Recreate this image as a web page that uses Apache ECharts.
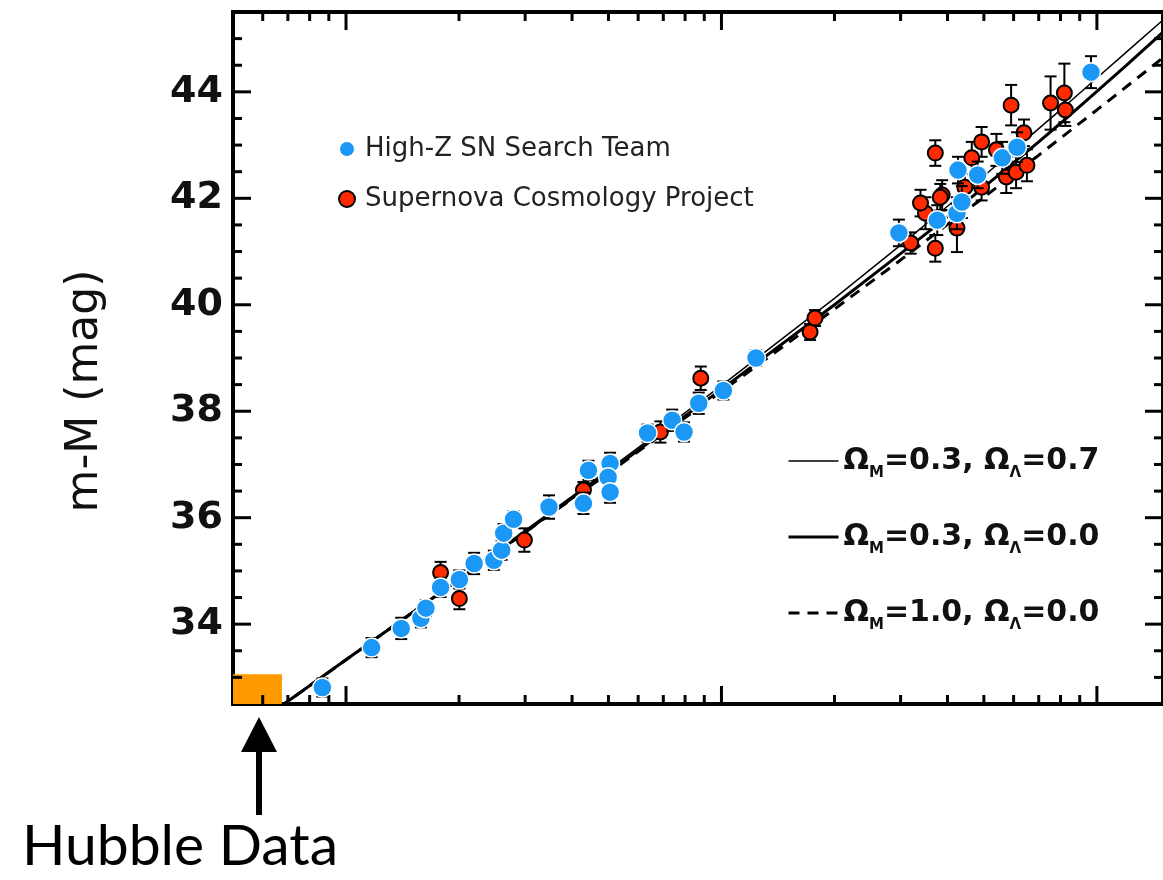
<!DOCTYPE html>
<html>
<head>
<meta charset="utf-8">
<script src="https://cdn.jsdelivr.net/npm/echarts@6/dist/echarts.min.js"></script>
<style>
  html, body { margin: 0; padding: 0; background: #fff; }
  #chart { width: 1163px; height: 880px; }
</style>
</head>
<body>
<div id="chart"></div>
<script>
// High-Z SN Search Team (blue)
const blueZ = [0.00865, 0.0117, 0.01403, 0.01583, 0.01632, 0.01786, 0.02004, 0.02194, 0.02476, 0.02598, 0.0263, 0.02794,
  0.03473, 0.0429, 0.04423, 0.05051, 0.04991, 0.05051, 0.06356, 0.07393, 0.07949, 0.08701, 0.1012, 0.1236,
  0.2969, 0.3757, 0.4239, 0.4369, 0.4266, 0.4814, 0.5598, 0.6128, 0.9645];
const blueMu = [32.81, 33.56, 33.92, 34.11, 34.30, 34.69, 34.84, 35.14, 35.20, 35.39, 35.71, 35.97,
  36.20, 36.27, 36.89, 37.02, 36.76, 36.48, 37.59, 37.83, 37.61, 38.15, 38.39, 39.00,
  41.35, 41.59, 41.72, 41.93, 42.53, 42.44, 42.76, 42.96, 44.37];
const blueErr = [0.17, 0.18, 0.2, 0.17, 0.15, 0.18, 0.17, 0.2, 0.18, 0.18, 0.17, 0.15,
  0.22, 0.2, 0.18, 0.2, 0.18, 0.2, 0.16, 0.2, 0.18, 0.2, 0.17, 0.15,
  0.25, 0.28, 0.3, 0.3, 0.25, 0.25, 0.3, 0.28, 0.3];

// Supernova Cosmology Project (red)
const redZ = [0.01786, 0.02004, 0.02986, 0.0429, 0.06877, 0.08808, 0.1722, 0.1775,
  0.3191, 0.3712, 0.3712, 0.4239, 0.3495, 0.3871, 0.339, 0.3827, 0.4642, 0.4931, 0.4449, 0.4931,
  0.54, 0.5737, 0.6092, 0.6511, 0.6394, 0.5909, 0.7527, 0.8192, 0.8241];
const redMu = [34.97, 34.48, 35.58, 36.52, 37.61, 38.62, 39.49, 39.75,
  41.16, 41.06, 42.85, 41.44, 41.72, 42.06, 41.91, 42.02, 42.76, 43.06, 42.21, 42.21,
  42.91, 42.40, 42.49, 42.62, 43.23, 43.75, 43.79, 43.98, 43.66];
const redErr = [0.2, 0.2, 0.22, 0.15, 0.2, 0.22, 0.15, 0.15,
  0.2, 0.25, 0.24, 0.45, 0.3, 0.28, 0.25, 0.25, 0.3, 0.28, 0.25, 0.25,
  0.3, 0.3, 0.3, 0.3, 0.25, 0.38, 0.5, 0.55, 0.3];

// model curves
const modelZ = [0.005, 0.007, 0.01, 0.02, 0.05, 0.1, 0.2, 0.3, 0.4, 0.5, 0.6, 0.7, 0.8, 1.0, 1.2, 1.5];
const lambdaMu = [31.82, 32.56, 33.34, 34.86, 36.90, 38.48, 40.12, 41.12, 41.85, 42.42, 42.90, 43.31, 43.66, 44.26, 44.75, 45.35];
const openMu = [31.82, 32.55, 33.33, 34.84, 36.86, 38.41, 40.00, 40.96, 41.65, 42.21, 42.67, 43.06, 43.41, 44.01, 44.50, 45.12];
const edsMu = [31.82, 32.55, 33.33, 34.84, 36.84, 38.37, 39.92, 40.84, 41.51, 42.02, 42.45, 42.81, 43.13, 43.66, 44.10, 44.64];

// axis ranges and tick marks
const zMin = 0.005, zMax = 1.5;
const muMin = 32.5, muMax = 45.5;
const xMajorTicks = [0.01, 0.1, 1];
const xMinorTicks = [0.006, 0.007, 0.008, 0.009, 0.02, 0.03, 0.04, 0.05, 0.06, 0.07, 0.08, 0.09,
  0.2, 0.3, 0.4, 0.5, 0.6, 0.7, 0.8, 0.9];
const yMajorTicks = [34, 36, 38, 40, 42, 44];
const yMinorTicks = [33, 33.5, 34.5, 35, 35.5, 36.5, 37, 37.5, 38.5, 39, 39.5, 40.5, 41, 41.5,
  42.5, 43, 43.5, 44.5, 45];
const hubbleBox = [[0.005, 32.5], [0.00675, 33.06]];

const blueName = 'High-Z SN Search Team';
const redName = 'Supernova Cosmology Project';
const lambdaName = 'OmM=0.3, OmL=0.7';
const openName = 'OmM=0.3, OmL=0.0';
const edsName = 'OmM=1.0, OmL=0.0';
const modelLabels = {};
modelLabels[lambdaName] = '{b|\u03A9}{s|M}{b|=0.3, \u03A9}{s|\u039B}{b|=0.7}';
modelLabels[openName] = '{b|\u03A9}{s|M}{b|=0.3, \u03A9}{s|\u039B}{b|=0.0}';
modelLabels[edsName] = '{b|\u03A9}{s|M}{b|=1.0, \u03A9}{s|\u039B}{b|=0.0}';

const thinLine = { color: '#000', width: 1.5 };
const thickLine = { color: '#000', width: 3 };
const dashLine = { color: '#000', width: 3, type: [11, 8] };

var tickData = [];
xMajorTicks.forEach(z => tickData.push([z, muMin, 0, 1]));
xMinorTicks.forEach(z => tickData.push([z, muMin, 0, 0]));
yMajorTicks.forEach(m => tickData.push([zMin, m, 1, 1]));
yMinorTicks.forEach(m => tickData.push([zMin, m, 1, 0]));

function renderTick(params, api) {
  let isY = api.value(2) === 1;
  let len = api.value(3) === 1 ? 18 : 9;
  let st = { stroke: '#000', lineWidth: 3 };
  if (!isY) {
    let z = api.value(0);
    let b = api.coord([z, muMin]);
    let t = api.coord([z, muMax]);
    return {
      type: 'group',
      children: [
        { type: 'line', shape: { x1: b[0], y1: b[1], x2: b[0], y2: b[1] - len }, style: st },
        { type: 'line', shape: { x1: t[0], y1: t[1], x2: t[0], y2: t[1] + len }, style: st }
      ]
    };
  }
  let m = api.value(1);
  let l = api.coord([zMin, m]);
  let r = api.coord([zMax, m]);
  return {
    type: 'group',
    children: [
      { type: 'line', shape: { x1: l[0], y1: l[1], x2: l[0] + len, y2: l[1] }, style: st },
      { type: 'line', shape: { x1: r[0], y1: r[1], x2: r[0] - len, y2: r[1] }, style: st }
    ]
  };
}

function renderErr(params, api) {
  let z = api.value(0), m = api.value(1), e = api.value(2);
  let top = api.coord([z, m + e]);
  let bot = api.coord([z, m - e]);
  let st = { stroke: '#000', lineWidth: 2 };
  return {
    type: 'group',
    children: [
      { type: 'line', shape: { x1: top[0], y1: top[1], x2: bot[0], y2: bot[1] }, style: st },
      { type: 'line', shape: { x1: top[0] - 6, y1: top[1], x2: top[0] + 6, y2: top[1] }, style: st },
      { type: 'line', shape: { x1: bot[0] - 6, y1: bot[1], x2: bot[0] + 6, y2: bot[1] }, style: st }
    ]
  };
}

const blueData = blueZ.map((z, i) => [z, blueMu[i], blueErr[i]]);
const redData = redZ.map((z, i) => [z, redMu[i], redErr[i]]);
const pairs = arr => modelZ.map((z, i) => [z, arr[i]]);

var chart = echarts.init(document.getElementById('chart'));

var option = {
  animation: false,
  backgroundColor: '#fff',
  grid: {
    left: 233, top: 12, right: -11, bottom: 176,
    show: true, borderColor: '#000', borderWidth: 4
  },
  xAxis: {
    type: 'log', logBase: 10, min: zMin, max: zMax,
    axisLine: { show: false }, axisTick: { show: false },
    axisLabel: { show: false }, splitLine: { show: false }
  },
  yAxis: {
    type: 'value', min: muMin, max: muMax, interval: 0.5,
    name: 'm-M (mag)', nameLocation: 'middle', nameGap: 125, nameRotate: 90,
    nameTextStyle: { fontFamily: 'DejaVu Sans', fontSize: 44, color: '#111', padding: [0, 66, 0, 0] },
    axisLine: { show: false }, axisTick: { show: false }, splitLine: { show: false },
    axisLabel: {
      margin: 10, fontFamily: 'DejaVu Sans', fontWeight: 'bold', fontSize: 38, color: '#111',
      formatter: function (v) {
        return (v % 2 === 0 && v >= 34 && v <= 44) ? String(v) : '';
      }
    }
  },
  legend: [
    {
      data: [blueName, redName], orient: 'vertical', left: 333, top: 129,
      icon: 'circle', itemWidth: 26, itemHeight: 16, itemGap: 20,
      textStyle: { fontFamily: 'DejaVu Sans', fontSize: 26, lineHeight: 30, color: '#222' }
    },
    {
      data: [
        { name: lambdaName, lineStyle: thinLine },
        { name: openName, lineStyle: thickLine },
        { name: edsName, lineStyle: dashLine }
      ],
      orient: 'vertical', left: 782, top: 441,
      itemWidth: 50, itemHeight: 14, itemGap: 41,
      itemStyle: { opacity: 0 },
      formatter: function (name) { return modelLabels[name]; },
      textStyle: {
        rich: {
          b: { fontFamily: 'DejaVu Sans', fontWeight: 'bold', fontSize: 30, lineHeight: 40, color: '#111' },
          s: { fontFamily: 'DejaVu Sans', fontWeight: 'bold', fontSize: 15, lineHeight: 16, verticalAlign: 'bottom', color: '#111' }
        }
      }
    }
  ],
  series: [
    {
      type: 'custom', name: 'ticks', renderItem: renderTick, data: tickData, z: 2, silent: true
    },
    {
      type: 'line', name: lambdaName, data: pairs(lambdaMu), symbol: 'none', z: 3,
      lineStyle: thinLine, itemStyle: { color: '#000' },
      markArea: {
        silent: true, itemStyle: { color: '#FF9900', opacity: 1 },
        data: [[{ coord: hubbleBox[0] }, { coord: hubbleBox[1] }]]
      }
    },
    {
      type: 'line', name: openName, data: pairs(openMu), symbol: 'none', z: 3,
      lineStyle: thickLine, itemStyle: { color: '#000' }
    },
    {
      type: 'line', name: edsName, data: pairs(edsMu), symbol: 'none', z: 3,
      lineStyle: dashLine, itemStyle: { color: '#000' }
    },
    {
      type: 'custom', name: 'redErr', renderItem: renderErr, data: redData, z: 4, clip: true
    },
    {
      type: 'scatter', name: redName, data: redData, symbol: 'circle', symbolSize: 15, z: 5,
      itemStyle: { color: '#FF2A00', borderColor: '#000', borderWidth: 2, opacity: 1 }
    },
    {
      type: 'custom', name: 'blueErr', renderItem: renderErr, data: blueData, z: 6, clip: true
    },
    {
      type: 'scatter', name: blueName, data: blueData, symbol: 'circle', symbolSize: 19, z: 7,
      itemStyle: { color: '#1B98F5', borderColor: '#fff', borderWidth: 1.5, opacity: 1 }
    }
  ],
  graphic: [
    { type: 'line', shape: { x1: 259, y1: 815, x2: 259, y2: 748 }, style: { stroke: '#000', lineWidth: 6 } },
    { type: 'polygon', shape: { points: [[241, 752], [277, 752], [259, 717]] }, style: { fill: '#000' } },
    { type: 'text', left: 22, top: 818, style: { text: 'Hubble Data', font: '57px Lato', fill: '#000' } }
  ]
};

chart.setOption(option);
</script>
</body>
</html>
